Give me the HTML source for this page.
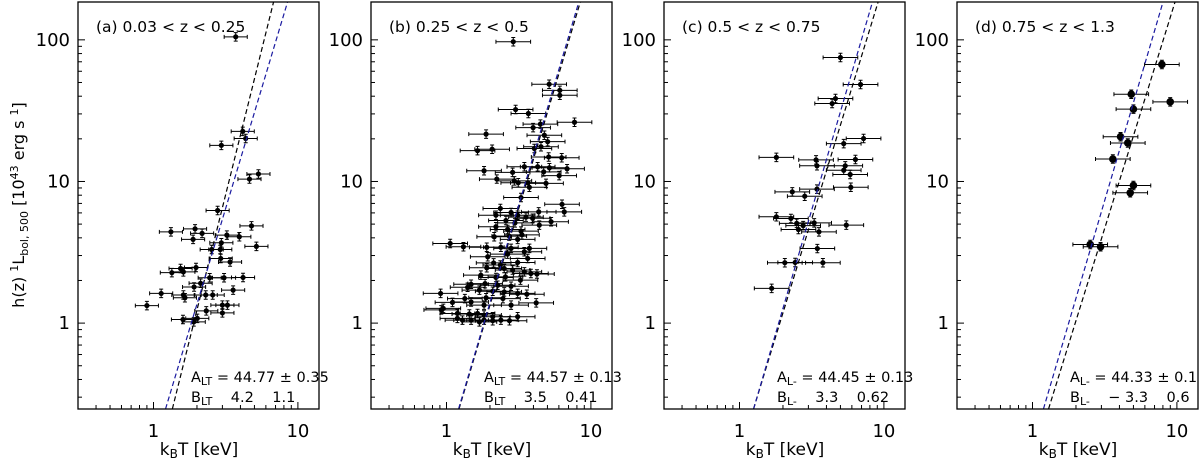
<!DOCTYPE html>
<html><head><meta charset="utf-8">
<style>
html,body{margin:0;padding:0;background:#fff;overflow:hidden;width:1200px;height:466px;}
svg{display:block;font-family:"DejaVu Sans","Liberation Sans",sans-serif;}
</style></head>
<body>
<svg id="chart" width="1200" height="466" viewBox="0 0 1200 466" xmlns="http://www.w3.org/2000/svg">
<text transform="translate(24,205) rotate(-90)" text-anchor="middle" font-size="16" fill="#000">h(z)  <tspan font-size="11" dy="-6">1</tspan><tspan dy="6">L</tspan><tspan font-size="11" dy="4">bol, 500</tspan><tspan dy="-4"> [10</tspan><tspan font-size="11" dy="-6">43</tspan><tspan dy="6"> erg s  </tspan><tspan font-size="11" dy="-6">1</tspan><tspan dy="6">]</tspan></text>
</svg>
<script>
// ---- data ----
const panelLabels = ["(a) 0.03 < z < 0.25","(b) 0.25 < z < 0.5","(c) 0.5 < z < 0.75","(d) 0.75 < z < 1.3"];
const aValues = ["44.77 ± 0.35","44.57 ± 0.13","44.45 ± 0.13","44.33 ± 0.1"];
const aLabels = ["LT","LT","L-","L-"];
const bValues = ["4.2    1.1","3.5    0.41","3.3    0.62","− 3.3    0.6"];
const xTickValues = [1,10];
const xTickLabels = ["1","10"];
const yTickValues = [1,10,100];
const yTickLabels = ["1","10","100"];
// fit lines: L = norm * (T/5)^slope
const blackNorm = [53, 30.8, 25, 21];
const blackSlope = [4.1, 3.42, 3.33, 3.28];
const blueNorm = [30.7, 32.9, 31.1, 36];
const blueSlope = [3.4, 3.45, 3.49, 3.47];
const xErrDex = [0.08, 0.12, 0.12, 0.12];
// points [T keV, L]
const pointsA = [[3.71,105],[4.15,22.6],[4.35,20.1],[2.95,18],[5.33,11.3],[4.62,10.4],[2.78,6.24],[4.77,4.86],[1.94,4.63],[1.32,4.41],[2.17,4.30],[1.88,3.90],[3.22,4.18],[3.93,4.07],[2.95,3.69],[5.16,3.48],[2.90,3.31],[2.53,3.31],[2.92,2.86],[3.39,2.70],[1.97,2.47],[1.54,2.43],[1.61,2.30],[1.34,2.27],[2.45,2.09],[3.08,2.09],[4.17,2.10],[2.12,1.91],[1.91,1.80],[3.56,1.71],[1.13,1.62],[1.61,1.58],[1.65,1.51],[2.30,1.58],[2.57,1.58],[0.90,1.33],[3.0,1.34],[3.25,1.34],[2.32,1.22],[3.0,1.18],[2.01,1.08],[1.6,1.06],[1.9,1.02]];
const pointsB = [[2.90,97],[5.14,48.6],[6.09,44],[6.09,40.6],[3.01,32.2],[3.69,30.2],[7.7,26.2],[4.47,25.4],[3.98,24],[1.88,21.6],[4.76,21.2],[5.02,19.1],[4.51,17.6],[4.06,17.1],[1.64,16.5],[2.07,16.9],[5.1,14.9],[6.28,14.7],[4.28,12.7],[3.46,12.7],[5.16,12.5],[6.84,12.3],[1.82,11.9],[2.87,11.6],[4.71,11.7],[6.03,11],[2.23,10.4],[2.95,10.1],[3.66,9.8],[4.89,9.7],[3.14,9.8],[3.75,9.1],[3.28,7.7],[6.31,6.9],[2.36,6.45],[6.54,6.1],[2.80,6.04],[4.35,6.1],[2.2,5.78],[3.11,5.78],[3.55,5.6],[3.95,5.5],[5.3,5.2],[2.58,5.3],[2.98,5.1],[4.39,4.92],[2.2,4.79],[2.65,4.58],[3.28,4.46],[2.72,4.11],[2.14,4.07],[3.11,3.9],[3.33,4.2],[1.06,3.65],[1.31,3.46],[1.9,3.43],[2.38,3.43],[2.8,3.37],[3.75,3.37],[3.46,3.19],[2.65,3.07],[1.93,2.94],[3.65,2.86],[3.11,2.68],[2.12,2.66],[2.36,2.57],[2.51,2.43],[1.9,2.46],[2.87,2.37],[3.46,2.30],[3.84,2.24],[4.23,2.22],[1.73,2.18],[2.2,2.10],[2.56,2.12],[3.25,2.01],[1.48,1.88],[1.85,1.90],[2.26,1.85],[2.80,1.82],[1.4,1.79],[1.69,1.71],[2.09,1.68],[2.51,1.66],[3.11,1.62],[3.6,1.6],[0.91,1.62],[1.34,1.49],[1.88,1.51],[2.46,1.49],[1.48,1.41],[4.18,1.39],[1.1,1.40],[1.82,1.34],[2.8,1.34],[0.95,1.27],[0.92,1.24],[1.19,1.17],[1.44,1.16],[1.82,1.14],[2.09,1.11],[3.11,1.11],[1.19,1.08],[1.29,1.05],[1.48,1.05],[1.69,1.02],[1.82,1.05],[2.09,1.04],[2.38,1.05],[2.73,1.04],[1.64,1.17]];
const pointsC = [[5.0,75],[6.89,48.4],[4.62,38.5],[4.38,35.5],[7.23,20.1],[5.27,18.5],[1.80,14.8],[3.39,14.2],[6.35,14.3],[3.44,12.9],[5.4,12.9],[5.27,12],[5.84,11.2],[5.9,9.1],[3.44,8.83],[2.32,8.45],[2.83,7.87],[1.80,5.63],[2.27,5.48],[2.49,5.06],[3.29,5.1],[5.49,4.92],[2.76,4.88],[2.56,4.58],[3.55,4.41],[3.46,3.36],[2.06,2.67],[2.43,2.68],[3.78,2.67],[1.67,1.76]];
const pointsD = [[7.87,67],[4.83,41.3],[8.99,36.5],[5.0,32.4],[4.07,20.7],[4.57,18.7],[3.60,14.4],[5.0,9.37],[4.75,8.32],[2.51,3.59],[2.96,3.46]];
const allPoints = [pointsA, pointsB, pointsC, pointsD];

// ---- geometry ----
const NS = "http://www.w3.org/2000/svg";
const svg = document.getElementById('chart');
const panelLefts = [78, 371, 664, 957];
const PW = 241, TOP = 2, BOT = 409;
const XMIN = 0.3, XMAX = 14, YMIN = 0.2475, YMAX = 185;
function el(tag, attrs, parent){const e=document.createElementNS(NS,tag);for(const k in attrs)e.setAttribute(k,attrs[k]);(parent||svg).appendChild(e);return e;}
function xs(p,v){return panelLefts[p] + (Math.log10(v)-Math.log10(XMIN))/(Math.log10(XMAX)-Math.log10(XMIN))*PW;}
function ys(v){return BOT - (Math.log10(v)-Math.log10(YMIN))/(Math.log10(YMAX)-Math.log10(YMIN))*(BOT-TOP);}

for(let p=0;p<4;p++){
  const L = panelLefts[p];
  const g = el('g',{});
  
  
  const cid='clip'+p;
  const cp = el('clipPath',{id:cid},g); el('rect',{x:L,y:TOP,width:PW,height:BOT-TOP},cp);
  for(let d=-1; d<=1; d++) for(let m=1;m<=9;m++){
    const v=m*Math.pow(10,d); if(v<XMIN||v>XMAX) continue;
    const x=xs(p,v), len = m===1?7:4;
    const t=el('line',{x1:x,x2:x,y1:BOT,y2:BOT-len,stroke:'#000','stroke-width':1},g);
    
    
  }
  for(let d=-1; d<=2; d++) for(let m=1;m<=9;m++){
    const v=m*Math.pow(10,d); if(v<YMIN||v>YMAX) continue;
    const y=ys(v), len = m===1?7:4;
    const t=el('line',{x1:L,x2:L+len,y1:y,y2:y,stroke:'#000','stroke-width':1},g);
    
    
  }
  xTickValues.forEach((v,i)=>{
    const t=el('text',{x:xs(p,v),y:437,'text-anchor':'middle','font-size':18,fill:'#000'},g);
    t.textContent=xTickLabels[i];
    
    
  });
  yTickValues.forEach((v,i)=>{
    const t=el('text',{x:L-8,y:ys(v)+6,'text-anchor':'end','font-size':18,fill:'#000'},g);
    t.textContent=yTickLabels[i];
    
    
  });
  const xt=el('text',{x:L+121,y:455,'text-anchor':'middle','font-size':17,fill:'#000'},g);
  xt.innerHTML='k<tspan font-size="12" dy="3">B</tspan><tspan dy="-3">T [keV]</tspan>';
  
  
  const dg = el('g',{'clip-path':'url(#'+cid+')'},g);
  const pts = allPoints[p];
  const r = p===3?3.8:2.6;
  pts.forEach((pt,i)=>{
    const T=pt[0], Lv=pt[1];
    const cx=xs(p,T), cy=ys(Lv);
    const xe=xErrDex[p];
    const x1=xs(p,T*Math.pow(10,-xe)), x2=xs(p,T*Math.pow(10,xe));
    const y1=ys(Lv*Math.pow(10,-0.03)), y2=ys(Lv*Math.pow(10,0.03));
    const eb=el('path',{d:`M${x1},${cy}H${x2}M${x1},${cy-2}V${cy+2}M${x2},${cy-2}V${cy+2}M${cx},${y1}V${y2}M${cx-2},${y1}H${cx+2}M${cx-2},${y2}H${cx+2}`,stroke:'#000','stroke-width':1,fill:'none'},dg);
    
    
    const c=el('circle',{cx:cx,cy:cy,r:r,fill:'#000'},dg);
    
    
  });
  [[blackNorm,blackSlope,'#000','black'],[blueNorm,blueSlope,'#1a1aa0','blue']].forEach(([N,S,col,nm])=>{
    // T where the fit crosses the bottom and top of the plot
    const Tat = Lv => 5*Math.pow(Lv/N[p], 1/S[p]);
    const T0=Tat(YMIN), T1=Tat(YMAX);
    const ln=el('line',{x1:xs(p,T0),y1:ys(YMIN),x2:xs(p,T1),y2:ys(YMAX),stroke:col,'stroke-width':1.2,'stroke-dasharray':'5,3'},dg);
    
    
  });
  const fr=el('rect',{x:L,y:TOP,width:PW,height:BOT-TOP,fill:'none',stroke:'#000','stroke-width':1.3},g);
  
  
  const lab=el('text',{x:L+18,y:32,'font-size':15.5,fill:'#000'},g);
  lab.textContent=panelLabels[p];
  
  
  const at=el('text',{x:L+113,y:382,'font-size':14.5,fill:'#000'},g);
  at.innerHTML='A<tspan font-size="11" dy="3">'+aLabels[p]+'</tspan><tspan dy="-3"> = '+aValues[p]+'</tspan>';
  
  
  const bt=el('text',{x:L+113,y:402,'font-size':14.5,fill:'#000'},g);
  bt.setAttribute('style','white-space:pre');
  bt.innerHTML='B<tspan font-size="11" dy="3">'+aLabels[p]+'</tspan><tspan dy="-3">    '+bValues[p]+'</tspan>';
  
  
}
</script>
</body></html>
